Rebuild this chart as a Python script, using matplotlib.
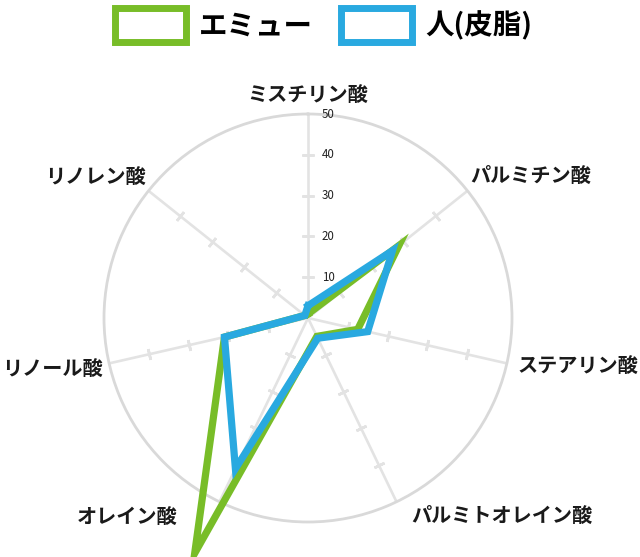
import numpy as np
import matplotlib
matplotlib.use("Agg")
import matplotlib.pyplot as plt
import matplotlib.patches as mpatches
from matplotlib.transforms import offset_copy

plt.rcParams['font.family'] = ['Noto Sans CJK JP', 'DejaVu Sans']

# data
categories = ["ミスチリン酸", "パルミチン酸", "ステアリン酸", "パルミトオレイン酸",
              "オレイン酸", "リノール酸", "リノレン酸"]
emu = [1, 28.5, 12.5, 5, 64, 21, 1]
human = [3, 26.5, 15, 5.5, 41, 21, 1]
series_names = ["エミュー", "人(皮脂)"]
rticks = [10, 20, 30, 40, 50]

GREEN = "#78bd28"
BLUE = "#29a9e0"
W, H = 640, 557

fig = plt.figure(figsize=(6.4, 5.57), dpi=100)

# polar axes, center ~ (308, 318) px, radius ~ 204 px
cx, cy, rad = 308, 318, 204
ax = fig.add_axes([(cx - rad) / W, 1 - (cy + rad) / H, 2 * rad / W, 2 * rad / H],
                  projection='polar')
ax.set_theta_offset(np.pi / 2)
ax.set_theta_direction(-1)
ax.set_ylim(0, 50)

n = len(categories)
angles = np.arange(n) * 2 * np.pi / n

ax.set_xticks(angles)
ax.set_xticklabels([])
ax.set_yticks(rticks)
ax.set_yticklabels([])
ax.yaxis.grid(False)
ax.xaxis.grid(True, color="#e3e3e3", lw=1.9)
ax.tick_params(length=0)
ax.spines['polar'].set_color("#d9d9d9")
ax.spines['polar'].set_linewidth(2.0)

# small cross ticks on each spoke
for a in angles:
    screen_deg = 90 - np.degrees(a)
    ax.plot([a] * 4, rticks[:-1], ls="none", marker=(2, 2, screen_deg),
            markersize=8, markeredgecolor="#e3e3e3", markeredgewidth=1.9)

# radial value labels next to the top spoke
tr = offset_copy(ax.transData, fig=fig, x=14, y=0, units='dots')
for r in rticks:
    ax.text(0, r, str(r), transform=tr, ha='left', va='center',
            fontsize=8.3, color="#222222")

# series
theta = np.append(angles, angles[0])
for vals, col in [(emu, GREEN), (human, BLUE)]:
    v = np.append(vals, vals[0])
    ln, = ax.plot(theta, v, color=col, lw=5.2, solid_joinstyle='miter', zorder=5)
    ln.set_clip_on(False)

# category labels (pixel centers)
label_pos = [(308, 95), (531, 175), (578, 366), (502, 515),
             (127, 517), (52, 369), (95, 177)]
for name, (px, py) in zip(categories, label_pos):
    fig.text(px / W, 1 - py / H, name, ha='center', va='center',
             fontsize=14.5, fontweight='bold', color="#1a1a1a")

# legend
handles = [mpatches.Patch(facecolor='white', edgecolor=GREEN, lw=5),
           mpatches.Patch(facecolor='white', edgecolor=BLUE, lw=5)]
fig.legend(handles, series_names, loc='center', bbox_to_anchor=(323.5 / W, 1 - 25 / H),
           ncol=2, frameon=False, handlelength=2.5, handleheight=1.46,
           handletextpad=0.45, columnspacing=1.0, borderpad=0, borderaxespad=0,
           prop={'size': 20.5, 'weight': 'bold'})

fig.savefig("out.png", dpi=100)
